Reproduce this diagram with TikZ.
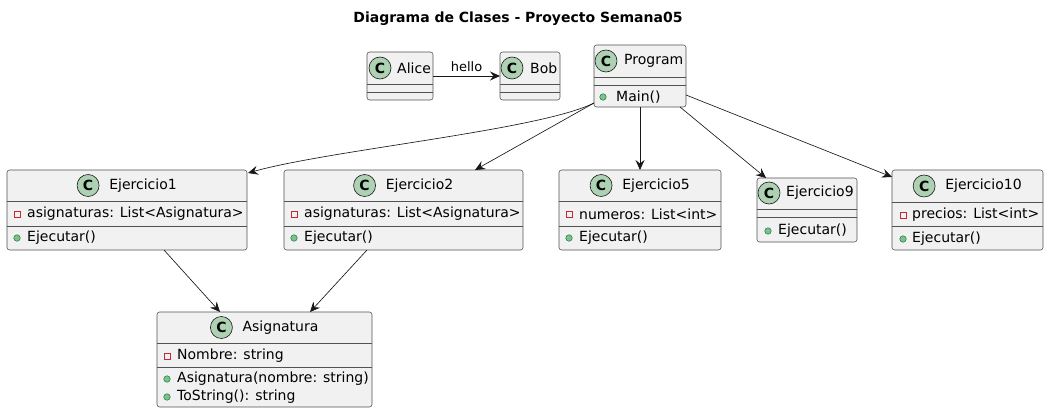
\documentclass[tikz,border=0pt]{standalone}
\usepackage{fontspec}
\setmainfont{DejaVu Sans}
\usetikzlibrary{arrows.meta,calc}
\definecolor{linec}{HTML}{181818}
\definecolor{boxf}{HTML}{F1F1F1}
\definecolor{iconf}{HTML}{ADD1B2}
\definecolor{privc}{HTML}{C82930}
\definecolor{pubf}{HTML}{84BE84}
\definecolor{pubd}{HTML}{038048}
\tikzset{
  clsbox/.style={draw=linec!75, fill=boxf, line width=0.55pt, rounded corners=2.5pt, inner sep=0pt, outer sep=0pt, anchor=north west},
  sepl/.style={draw=linec!75, line width=0.55pt},
  cicon/.style={circle, draw=linec, fill=iconf, line width=0.6pt, minimum size=22pt, inner sep=0pt, font=\fontsize{14}{14}\selectfont\bfseries},
  ctext/.style={font=\fontsize{14}{16}\selectfont, inner sep=0pt, anchor=west},
  cname/.style={font=\fontsize{14}{16}\selectfont, inner sep=0pt},
  privm/.style={draw=privc, line width=0.7pt, minimum size=6pt, inner sep=0pt, rectangle},
  pubm/.style={circle, draw=pubd, fill=pubf, line width=0.5pt, minimum size=6.5pt, inner sep=0pt},
  arr/.style={draw=linec, line width=0.65pt, -{Stealth[length=10pt,width=9pt,inset=3.5pt]}},
}
\begin{document}
\begin{tikzpicture}[x=1pt,y=-1pt]
\useasboundingbox (0,0) rectangle (1049,414);
\node[font=\fontsize{14}{16}\selectfont\bfseries] (title) at (518,19) {Diagrama de Clases - Proyecto Semana05};

% Alice
\node[clsbox, minimum width=66, minimum height=48] (alice) at (367,52) {};
\draw[sepl] (367,84) -- (433,84); \draw[sepl] (367,92) -- (433,92);
\node[cicon] (aliceic) at (380,68) {C};
\node[ctext] (alicen) at (397,68) {Alice};
% Bob
\node[clsbox, minimum width=60, minimum height=48] (bob) at (500,52) {};
\draw[sepl] (500,84) -- (560,84); \draw[sepl] (500,92) -- (560,92);
\node[cicon] (bobic) at (512,68) {C};
\node[ctext] (bobn) at (530,68) {Bob};
\draw[arr] (alice.east) -- (bob.west) node[midway, above=1pt, font=\fontsize{13}{14}\selectfont] (hello) {hello};

% Program
\node[clsbox, minimum width=92, minimum height=62] (prog) at (594,45) {};
\draw[sepl] (594,77) -- (686,77); \draw[sepl] (594,85) -- (686,85);
\node[cicon] (progic) at (606,61) {C};
\node[ctext] (progn) at (624,61) {Program};
\node[pubm] (progm1) at (603,97) {};
\node[ctext] (progt1) at (616,97) {Main()};

% Ejercicio1
\node[clsbox, minimum width=240, minimum height=80] (e1) at (7,170) {};
\draw[sepl] (7,201) -- (247,201); \draw[sepl] (7,226) -- (247,226);
\node[cname] (e1n) at (143,185.5) {Ejercicio1};
\node[cicon] (e1ic) at ($(e1n.west)+(-21,0)$) {C};
\node[privm] (e1m1) at (17,214) {};
\node[ctext] (e1t1) at (27,214) {asignaturas: List<Asignatura>};
\node[pubm] (e1m2) at (17,238) {};
\node[ctext] (e1t2) at (27,238) {Ejecutar()};

% Ejercicio2
\node[clsbox, minimum width=239, minimum height=80] (e2) at (284,170) {};
\draw[sepl] (284,201) -- (523,201); \draw[sepl] (284,226) -- (523,226);
\node[cname] (e2n) at (419.5,185.5) {Ejercicio2};
\node[cicon] (e2ic) at ($(e2n.west)+(-21,0)$) {C};
\node[privm] (e2m1) at (294,214) {};
\node[ctext] (e2t1) at (304,214) {asignaturas: List<Asignatura>};
\node[pubm] (e2m2) at (294,238) {};
\node[ctext] (e2t2) at (304,238) {Ejecutar()};

% Ejercicio5
\node[clsbox, minimum width=162, minimum height=80] (e5) at (559,170) {};
\draw[sepl] (559,201) -- (721,201); \draw[sepl] (559,226) -- (721,226);
\node[cname] (e5n) at (656,185.5) {Ejercicio5};
\node[cicon] (e5ic) at ($(e5n.west)+(-21,0)$) {C};
\node[privm] (e5m1) at (569,214) {};
\node[ctext] (e5t1) at (579,214) {numeros: List<int>};
\node[pubm] (e5m2) at (569,238) {};
\node[ctext] (e5t2) at (579,238) {Ejecutar()};

% Ejercicio9
\node[clsbox, minimum width=100, minimum height=64] (e9) at (757,178) {};
\draw[sepl] (757,209) -- (857,209); \draw[sepl] (757,217) -- (857,217);
\node[cicon] (e9ic) at (769,193) {C};
\node[ctext] (e9n) at (786,193) {Ejercicio9};
\node[pubm] (e9m1) at (768,231) {};
\node[ctext] (e9t1) at (778,231) {Ejecutar()};

% Ejercicio10
\node[clsbox, minimum width=151, minimum height=80] (e10) at (892,170) {};
\draw[sepl] (892,202) -- (1043,202); \draw[sepl] (892,226) -- (1043,226);
\node[cname] (e10n) at (983.5,186) {Ejercicio10};
\node[cicon] (e10ic) at ($(e10n.west)+(-21,0)$) {C};
\node[privm] (e10m1) at (903,215) {};
\node[ctext] (e10t1) at (912,215) {precios: List<int>};
\node[pubm] (e10m2) at (903,239) {};
\node[ctext] (e10t2) at (912,239) {Ejecutar()};

% Asignatura
\node[clsbox, minimum width=215, minimum height=95] (asig) at (157,312) {};
\draw[sepl] (157,343) -- (372,343); \draw[sepl] (157,367) -- (372,367);
\node[cname] (asn) at (280.5,327.5) {Asignatura};
\node[cicon] (asic) at ($(asn.west)+(-21,0)$) {C};
\node[privm] (asm1) at (167,356) {};
\node[ctext] (ast1) at (177,356) {Nombre: string};
\node[pubm] (asm2) at (167,379) {};
\node[ctext] (ast2) at (177,379) {Asignatura(nombre: string)};
\node[pubm] (asm3) at (167,397) {};
\node[ctext] (ast3) at (177,397) {ToString(): string};

% connectors
\coordinate (pl) at ([yshift=4pt]prog.south west);
\draw[arr] (pl) .. controls (540,130) and (330,150) .. ([xshift=1pt,yshift=-3pt]e1.north east);
\draw[arr] (pl) -- ([xshift=191pt]e2.north west);
\draw[arr] (prog.south) -- (e5.north);
\draw[arr] ([xshift=-6pt]prog.south east) -- ([xshift=9pt]e9.north west);
\draw[arr] ([yshift=-50pt]prog.north east) -- ([yshift=-7pt]e10.north west);
\draw[arr] ([xshift=157pt]e1.south west) -- ([xshift=63pt]asig.north west);
\draw[arr] ([xshift=83pt]e2.south west) -- ([xshift=153pt]asig.north west);
\end{tikzpicture}
\end{document}
